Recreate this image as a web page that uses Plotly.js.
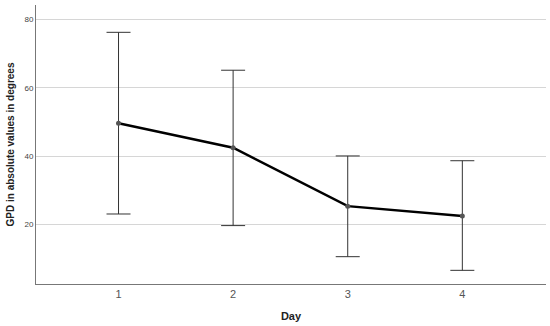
<!DOCTYPE html>
<html><head><meta charset="utf-8">
<script src="https://cdn.plot.ly/plotly-3.0.1.min.js"></script>
<style>html,body{margin:0;padding:0;background:#fff}#c{width:550px;height:326px}</style>
</head><body><div id="c"></div>
<script>
const days = [1, 2, 3, 4];
const dayLabels = ['1', '2', '3', '4'];
const means = [49.7, 42.5, 25.4, 22.5];
const upper = [76.3, 65.2, 40.1, 38.7];
const lower = [23.1, 19.7, 10.6, 6.6];

const plus = means.map((m, i) => upper[i] - m);
const minus = means.map((m, i) => m - lower[i]);

const trace = {
  x: days, y: means, type: 'scatter', mode: 'lines+markers',
  line: {color: '#000', width: 2.5},
  marker: {color: '#555', size: 5},
  error_y: {type: 'data', symmetric: false, array: plus, arrayminus: minus,
            color: '#333', thickness: 1, width: 12},
  hoverinfo: 'none'
};

const layout = {
  width: 550, height: 326,
  margin: {l: 36, r: 4, t: 5, b: 42},
  paper_bgcolor: '#fff', plot_bgcolor: '#fff',
  showlegend: false,
  font: {family: 'Liberation Sans, Arial, sans-serif'},
  xaxis: {
    range: [0.28, 4.73], tickvals: days, ticktext: dayLabels,
    showgrid: false, zeroline: false, showline: true, linecolor: '#777', linewidth: 1,
    ticks: '', tickfont: {size: 11, color: '#555'},
    title: {text: '<b>Day</b>', font: {size: 11, color: '#222'}, standoff: 13}
  },
  yaxis: {
    range: [2.6, 84.3], tickvals: [20, 40, 60, 80],
    showgrid: true, gridcolor: '#d6d6d6', gridwidth: 1, zeroline: false,
    showline: true, linecolor: '#777', linewidth: 1,
    ticks: '', ticklen: 0, tickfont: {size: 8, color: '#444'},
    title: {text: '<b>GPD in absolute values in degrees</b>', font: {size: 10, color: '#222'}, standoff: 7}
  }
};
Plotly.newPlot('c', [trace], layout, {staticPlot: true, displayModeBar: false});
</script></body></html>
